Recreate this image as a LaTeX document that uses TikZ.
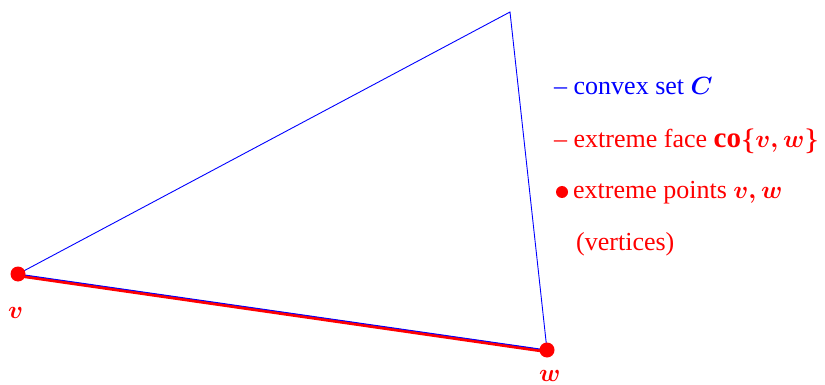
\documentclass[tikz,border=0pt]{standalone}
\usepackage{amsmath}
\usepackage{fontspec}
\setmainfont{Liberation Serif}
\newcommand{\mth}[1]{{\fontsize{29}{33}\selectfont$#1$}}
\begin{document}
\begin{tikzpicture}[x=1pt,y=-1pt,
  lbl/.style={anchor=base west,inner sep=0pt,font=\fontsize{26}{30}\selectfont},
  vert/.style={circle,fill=red,inner sep=0pt,minimum size=15pt}]
\useasboundingbox (0,0) rectangle (825,385);
\coordinate (v) at (18,274);
\coordinate (w) at (547,350);
\coordinate (t) at (510,12);
\draw[red,line width=3.2pt] ([yshift=-1.6pt]v) -- ([yshift=-1.6pt]w);
\draw[blue,line width=0.9pt,line join=miter] (v) -- (t) -- (w) -- cycle;
\node[vert] (pv) at (v) {};
\node[vert] (pw) at (w) {};
\node[lbl,red] (lv) at (8,318) {\mth{\boldsymbol{v}}};
\node[lbl,red] (lw) at (539,381) {\mth{\boldsymbol{w}}};
\node[lbl,blue] (l1) at (554,95) {– convex set \mth{\boldsymbol{C}}};
\node[lbl,red] (l2) at (554,148) {– extreme face \mth{\mathbf{co}\boldsymbol{\{v,w\}}}};
\node[vert,minimum size=12pt] (b) at (562,192) {};
\node[lbl,red] (l3) at (573,199) {extreme points \mth{\boldsymbol{v,w}}};
\node[lbl,red] (l4) at (576,250) {(vertices)};
\end{tikzpicture}
\end{document}
